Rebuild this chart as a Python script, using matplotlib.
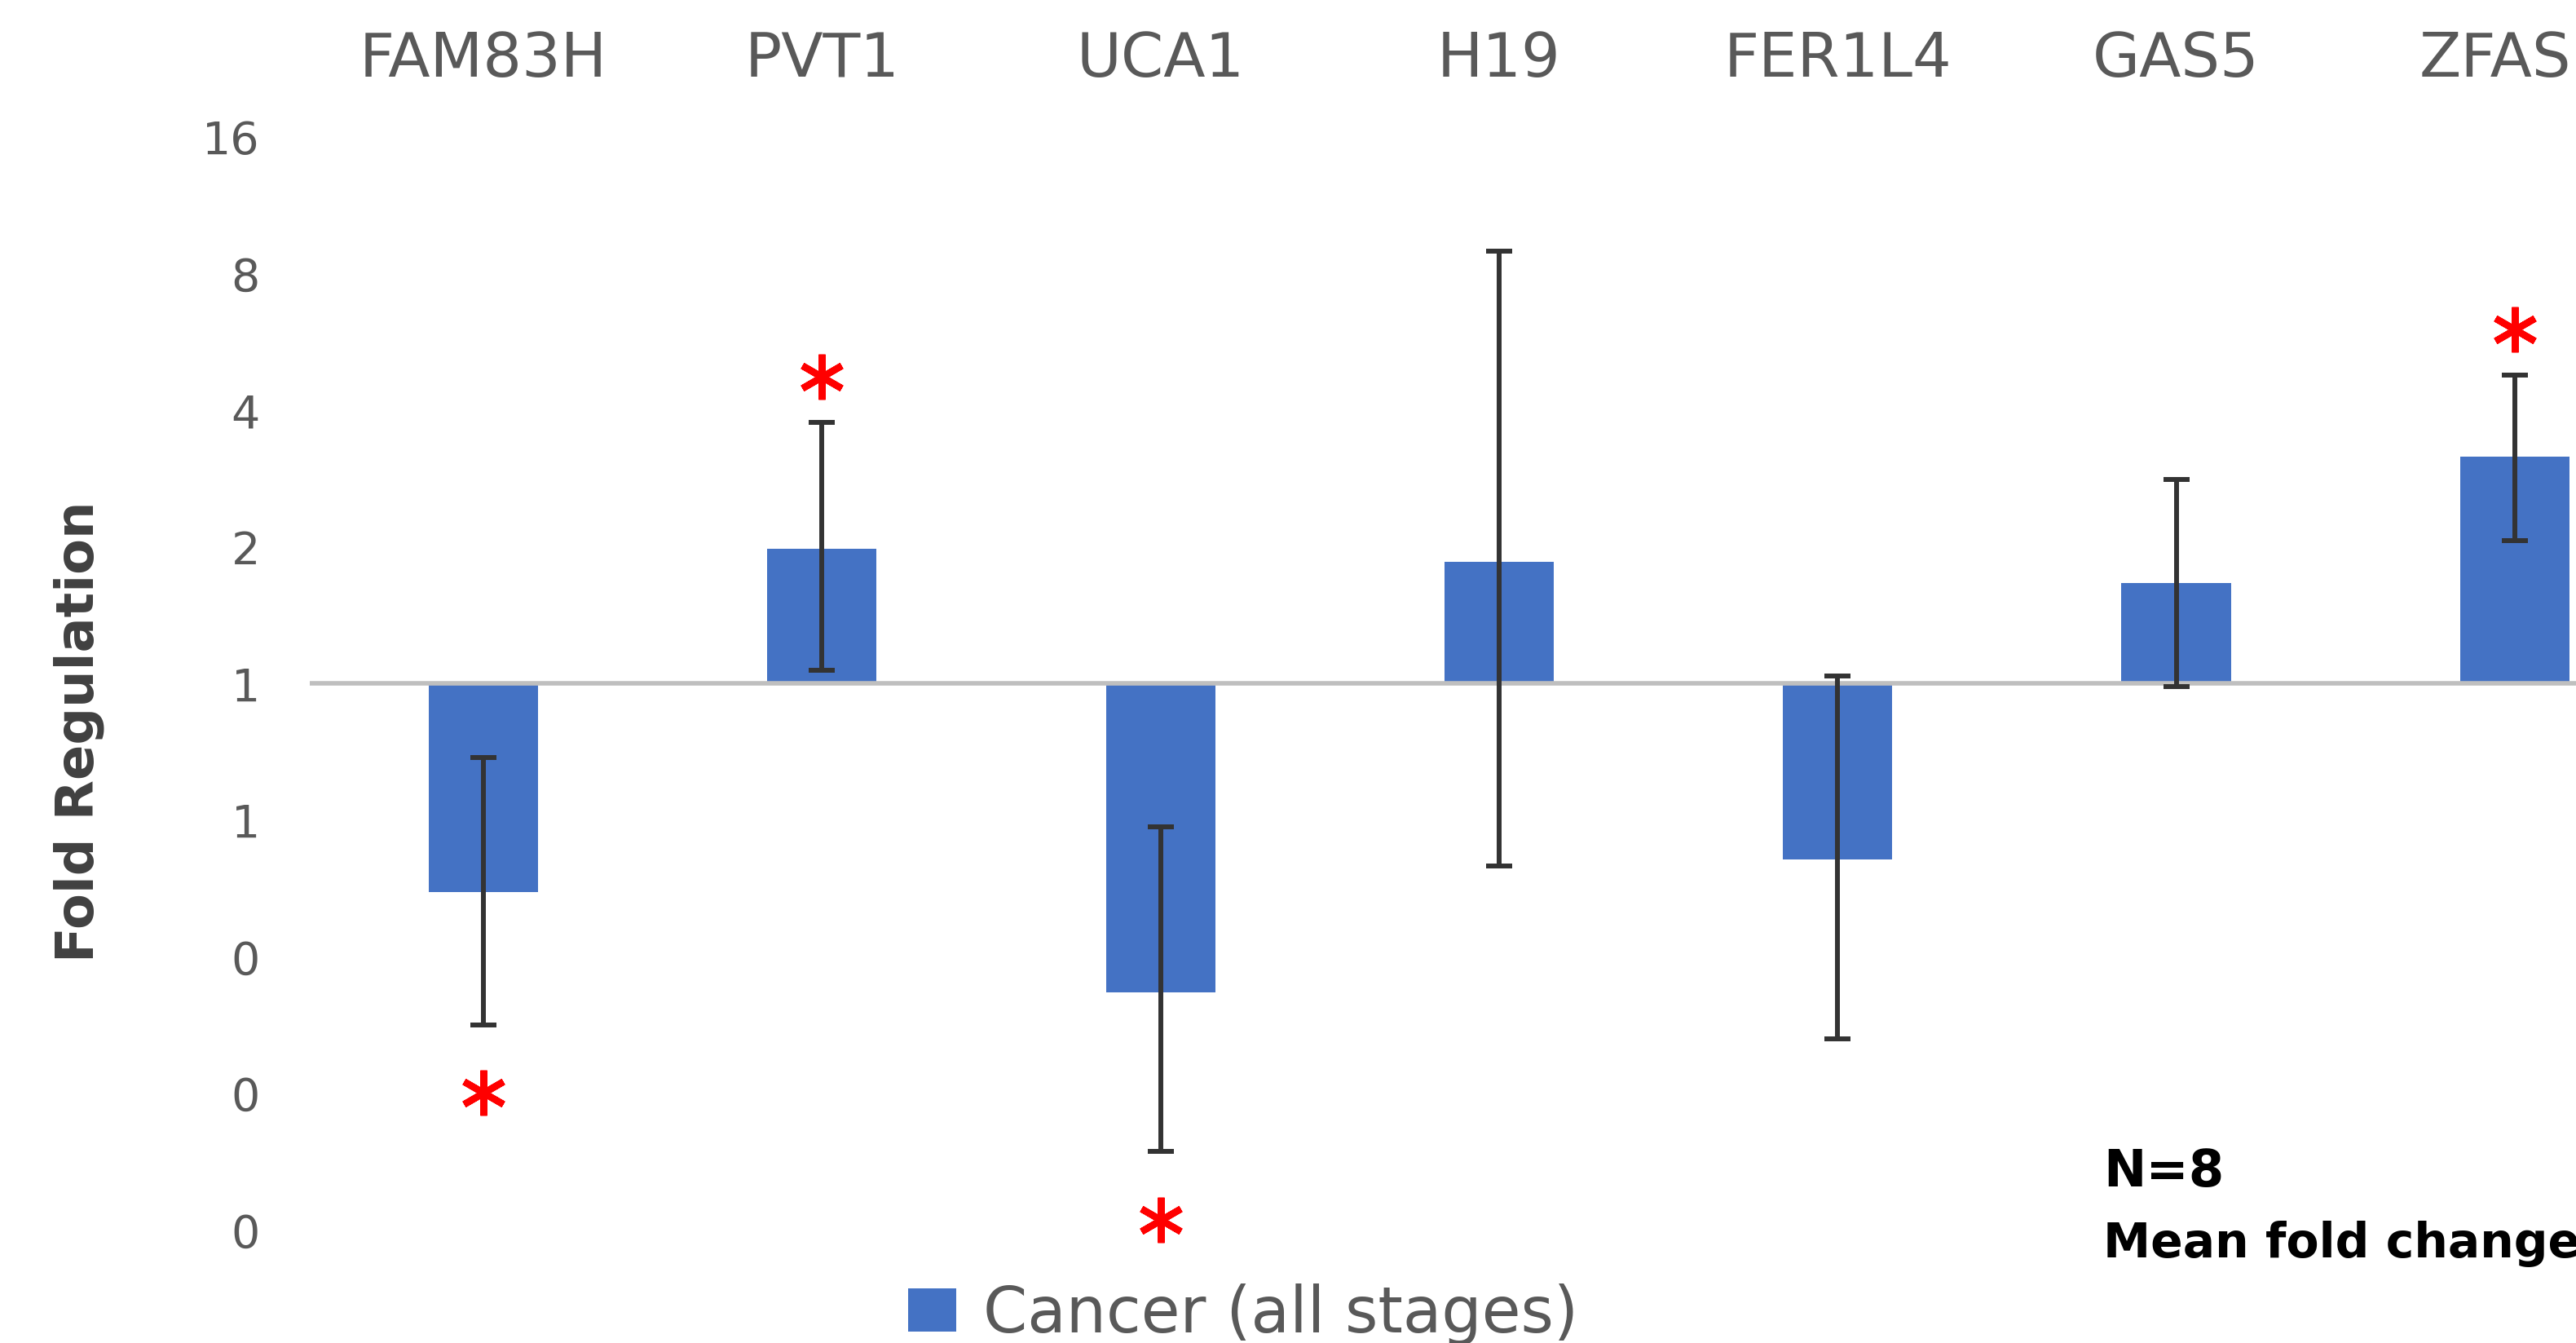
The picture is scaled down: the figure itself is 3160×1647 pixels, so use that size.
import matplotlib
matplotlib.use("Agg")
import matplotlib.pyplot as plt
from matplotlib.transforms import offset_copy
from matplotlib.patches import Patch
import numpy as np

# ---------------- data ----------------
genes = ['FAM83H', 'PVT1', 'UCA1', 'H19', 'FER1L4', 'GAS5', 'ZFAS1']
fold = [0.348, 1.98, 0.209, 1.86, 0.41, 1.67, 3.17]
err_low = [0.177, 1.07, 0.093, 0.397, 0.165, 0.986, 2.07]
err_high = [0.688, 3.77, 0.484, 8.98, 1.04, 2.82, 4.79]
significant = [True, True, True, False, False, False, True]
yticks = [16, 8, 4, 2, 1, 0.5, 0.25, 0.125, 0.0625]
ytick_labels = ['16', '8', '4', '2', '1', '1', '0', '0', '0']
legend_label = 'Cancer (all stages)'
ylabel = 'Fold Regulation'
note_n = 'N=8'
note_mean = 'Mean fold change: '

BAR = '#4472C4'
DPI = 100
W, H = 3160, 1647

fig = plt.figure(figsize=(W / DPI, H / DPI), dpi=DPI)
ax = fig.add_axes([380 / W, 1 - 1508.5 / H, 1 - 380 / W, (1508.5 - 168.5) / H])

x = np.arange(len(genes))
fold_a = np.array(fold)
lo = np.array(err_low)
hi = np.array(err_high)

ax.set_yscale('log', base=2)
ax.set_ylim(min(yticks), max(yticks))
ax.set_xlim(-0.513, 6.181)

ax.bar(x, fold_a - 1, bottom=1, width=0.323, color=BAR, zorder=2,
       label=legend_label)
ax.axhline(1, color='#BFBFBF', lw=4.0, zorder=3)
ax.errorbar(x, fold_a, yerr=[fold_a - lo, hi - fold_a], fmt='none',
            ecolor='#333333', elinewidth=4.3, capsize=11.5, capthick=4.3,
            zorder=4)

for xi, f, l, h, s in zip(x, fold_a, lo, hi, significant):
    if not s:
        continue
    if f >= 1:
        tr = offset_copy(ax.transData, fig=fig, x=0, y=40, units='points')
        yv = h
    else:
        tr = offset_copy(ax.transData, fig=fig, x=0, y=-60, units='points')
        yv = l
    ax.plot([xi], [yv], marker=(6, 2, 0), markersize=40, color='#FF0000',
            markeredgewidth=6, transform=tr, clip_on=False, zorder=5)

for sp in ax.spines.values():
    sp.set_visible(False)

ax.set_yticks(yticks)
ax.set_yticklabels(ytick_labels)
ax.yaxis.set_minor_locator(matplotlib.ticker.NullLocator())
ax.tick_params(axis='y', length=0, pad=44, labelsize=40, labelcolor='#595959')

ax.xaxis.tick_top()
ax.set_xticks(x)
ax.set_xticklabels(genes)
ax.tick_params(axis='x', length=0, pad=42, labelsize=54, labelcolor='#595959')

ax.set_ylabel(ylabel, fontsize=46, fontweight='bold', color='#404040')
ax.yaxis.set_label_coords((128 - 380) / (W - 380), 0.456)

leg = fig.legend(handles=[Patch(facecolor=BAR, label=legend_label)],
                 loc='center', bbox_to_anchor=(1525 / W, 1 - 1612 / H),
                 frameon=False, fontsize=56, handlelength=0.76,
                 handleheight=0.67, handletextpad=0.42, borderpad=0)
for t in leg.get_texts():
    t.set_color('#595959')

fig.text(2580 / W, 1 - 1455 / H, note_n, fontsize=45, fontweight='bold',
         color='black', va='baseline', ha='left')
fig.text(2580 / W, 1 - 1542 / H, note_mean, fontsize=42, fontweight='bold',
         color='black', va='baseline', ha='left')

fig.savefig('out.png', dpi=DPI, facecolor='white')
